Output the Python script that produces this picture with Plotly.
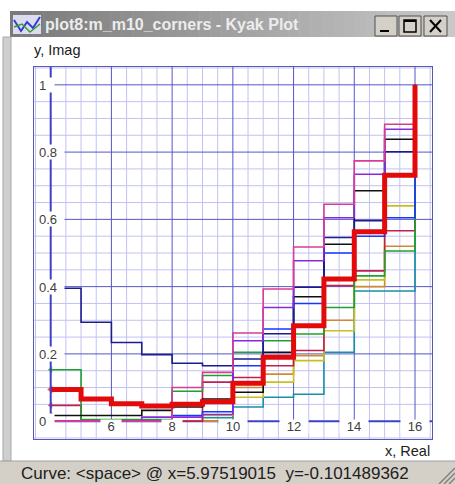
import plotly.graph_objects as go

# ---------------- data ----------------
x_steps = [4, 5, 6, 7, 8, 9, 10, 11, 12, 13, 14, 15, 16]

red     = [0.094, 0.066, 0.052, 0.045, 0.050, 0.058, 0.113, 0.190, 0.284, 0.423, 0.563, 0.731, 1.0]
navy    = [0.395, 0.294, 0.234, 0.198, 0.172, 0.165, 0.185, 0.260, 0.398, 0.546, 0.596, 0.801, 1.0]
pink    = [0.0, 0.0, 0.0, 0.0, 0.100, 0.145, 0.262, 0.393, 0.518, 0.645, 0.774, 0.883, 1.0]
purple  = [0.0, 0.0, 0.0, 0.012, 0.012, 0.020, 0.239, 0.338, 0.477, 0.605, 0.734, 0.868, 1.0]
black   = [0.017, 0.017, 0.017, 0.032, 0.042, 0.066, 0.086, 0.205, 0.370, 0.526, 0.685, 0.838, 1.0]
blue    = [0.0, 0.0, 0.0, 0.0, 0.017, 0.028, 0.165, 0.274, 0.350, 0.500, 0.550, 0.605, 1.0]
green   = [0.153, 0.005, 0.005, 0.005, 0.089, 0.136, 0.205, 0.239, 0.259, 0.338, 0.432, 0.506, 1.0]
crimson = [0.047, 0.0, 0.0, 0.0, 0.0, 0.116, 0.130, 0.165, 0.210, 0.403, 0.447, 0.566, 1.0]
olive   = [0.0, 0.0, 0.0, 0.0, 0.0, 0.017, 0.071, 0.116, 0.180, 0.269, 0.420, 0.640, 1.0]
teal    = [0.0, 0.0, 0.0, 0.0, 0.0, 0.010, 0.042, 0.071, 0.080, 0.205, 0.387, 0.387, 1.0]
orange  = [0.0, 0.0, 0.0, 0.0, 0.0, 0.0, 0.100, 0.140, 0.195, 0.300, 0.400, 0.520, 1.0]

x_ticks = [6, 8, 10, 12, 14, 16]
x_tick_labels = ["6", "8", "10", "12", "14", "16"]
y_ticks = [0, 0.2, 0.4, 0.6, 0.8, 1.0]
y_tick_labels = ["0", "0.2", "0.4", "0.6", "0.8", "1"]

window_title = "plot8:m_m10_corners - Kyak Plot"
y_title = "y, Imag"
x_title = "x, Real"
status_text = "Curve: <space> @ x=5.97519015  y=-0.101489362"

# ---------------- geometry ----------------
W, H = 455, 484
L, R, T, B = 34, 432, 67, 439
XR = [3.45, 16.56]
YR = [-0.053, 1.053]
FONT = "Liberation Sans, Arial, sans-serif"
X_MINOR_STEP, Y_MINOR_STEP = 0.5, 0.05


def px(v):
    return (v - L) / (R - L)


def py(v):
    return (B - v) / (B - T)


fig = go.Figure()

thin = [
    (orange, "#d08a30"), (teal, "#1a90a8"), (olive, "#c8c020"), (crimson, "#c02050"),
    (green, "#20a030"), (blue, "#1438ff"), (black, "#101010"), (navy, "#1c1c8c"),
    (purple, "#8a28e0"), (pink, "#d83c96"),
]
n = len(x_steps)
for vals, col in thin:
    fig.add_trace(go.Scatter(
        x=x_steps, y=vals, mode="lines+markers",
        line=dict(color=col, width=1.6, shape="hv"),
        marker=dict(symbol="triangle-left", size=[6] + [0] * (n - 1), color=col, line=dict(width=0)),
        showlegend=False, hoverinfo="skip"))

fig.add_trace(go.Scatter(
    x=x_steps, y=red, mode="lines+markers",
    line=dict(color="#e20a0a", width=5, shape="hv"),
    marker=dict(symbol="triangle-left", size=[7] + [0] * (n - 1), color="#e20a0a", line=dict(width=0)),
    showlegend=False, hoverinfo="skip"))

shapes = []
MIN = "#c2c2f2"
MAJ = "#5656c8"
AX = "#4040c4"
k = 0
while True:
    xv = 3.5 + k * X_MINOR_STEP
    if xv > XR[1]:
        break
    if not (xv >= 4 and abs((xv - 4) % 2) < 1e-9):
        shapes.append(dict(type="line", xref="x", yref="paper", x0=xv, x1=xv, y0=0, y1=1,
                           line=dict(color=MIN, width=1), layer="below"))
    k += 1
k = -1
while True:
    yv = k * Y_MINOR_STEP
    if yv > YR[1]:
        break
    if not (yv >= 0 and k % 4 == 0):
        shapes.append(dict(type="line", xref="paper", yref="y", x0=0, x1=1, y0=yv, y1=yv,
                           line=dict(color=MIN, width=1), layer="below"))
    k += 1
for xv in x_ticks:
    shapes.append(dict(type="line", xref="x", yref="y", x0=xv, x1=xv, y0=0, y1=YR[1],
                       line=dict(color=MAJ, width=1), layer="below"))
for yv in y_ticks[1:]:
    shapes.append(dict(type="line", xref="x", yref="y", x0=4, x1=XR[1], y0=yv, y1=yv,
                       line=dict(color=MAJ, width=1), layer="below"))
shapes.append(dict(type="line", xref="x", yref="y", x0=4, x1=4, y0=0, y1=YR[1],
                   line=dict(color=AX, width=2), layer="above"))
shapes.append(dict(type="line", xref="x", yref="y", x0=4, x1=XR[1], y0=0, y1=0,
                   line=dict(color=AX, width=2), layer="below"))

# ---- window chrome ----
nstrip = 40
x_start, x_end = 10, 455
for i in range(nstrip):
    t = i / (nstrip - 1)
    c = int(122 + (200 - 122) * t)
    a = x_start + (x_end - x_start) * i / nstrip
    b = x_start + (x_end - x_start) * (i + 1) / nstrip + 0.5
    shapes.append(dict(type="rect", xref="paper", yref="paper", x0=px(a), x1=px(b),
                       y0=py(37), y1=py(11), fillcolor=f"rgb({c},{c},{c})", line=dict(width=0),
                       layer="above"))
shapes.append(dict(type="rect", xref="paper", yref="paper", x0=px(13), x1=px(41), y0=py(34), y1=py(15),
                   fillcolor="#dcdcf0", line=dict(width=0), layer="above"))
shapes.append(dict(type="path", xref="paper", yref="paper",
                   path=f"M {px(14)},{py(20)} L {px(21)},{py(31)} L {px(27)},{py(22)} L {px(33)},{py(28)} L {px(40)},{py(17)}",
                   line=dict(color="#3a3ad0", width=2), layer="above"))
shapes.append(dict(type="path", xref="paper", yref="paper",
                   path=f"M {px(14)},{py(27)} L {px(22)},{py(24)} L {px(30)},{py(32)} L {px(40)},{py(24)}",
                   line=dict(color="#30a030", width=1.5), layer="above"))
for (a, b) in [(375, 397), (399, 421), (424, 447)]:
    shapes.append(dict(type="rect", xref="paper", yref="paper", x0=px(a), x1=px(b), y0=py(36), y1=py(16),
                       fillcolor="#d4d0c8", line=dict(color="#505050", width=1), layer="above"))
shapes.append(dict(type="rect", xref="paper", yref="paper", x0=px(380), x1=px(389), y0=py(32), y1=py(30),
                   fillcolor="#000000", line=dict(width=0), layer="above"))
shapes.append(dict(type="rect", xref="paper", yref="paper", x0=px(404), x1=px(416), y0=py(32), y1=py(20),
                   fillcolor="rgba(0,0,0,0)", line=dict(color="#000000", width=1.5), layer="above"))
shapes.append(dict(type="line", xref="paper", yref="paper", x0=px(404), x1=px(416), y0=py(21), y1=py(21),
                   line=dict(color="#000000", width=2), layer="above"))
shapes.append(dict(type="line", xref="paper", yref="paper", x0=px(430), x1=px(441), y0=py(20), y1=py(32),
                   line=dict(color="#000000", width=2), layer="above"))
shapes.append(dict(type="line", xref="paper", yref="paper", x0=px(430), x1=px(441), y0=py(32), y1=py(20),
                   line=dict(color="#000000", width=2), layer="above"))
shapes.append(dict(type="rect", xref="paper", yref="paper", x0=px(3), x1=px(11), y0=py(461), y1=py(37),
                   fillcolor="#cfcfcf", line=dict(color="#a8a8a8", width=1), layer="above"))
shapes.append(dict(type="rect", xref="paper", yref="paper", x0=px(0), x1=px(456), y0=py(485), y1=py(461),
                   fillcolor="#d4d0c8", line=dict(width=0), layer="above"))
shapes.append(dict(type="line", xref="paper", yref="paper", x0=px(0), x1=px(456), y0=py(461), y1=py(461),
                   line=dict(color="#a0a0a0", width=1), layer="above"))
for kk in (6, 11, 16):
    shapes.append(dict(type="line", xref="paper", yref="paper", x0=px(455 - kk), x1=px(455), y0=py(484), y1=py(484 - kk),
                       line=dict(color="#808080", width=1.5), layer="above"))

ann = []
for v, t in zip(y_ticks, y_tick_labels):
    ann.append(dict(xref="paper", yref="y", x=px(37), y=v, xanchor="left", yanchor="middle",
                    text=t, showarrow=False, bgcolor="white", borderpad=1,
                    width=14 if len(t) == 1 else 24, height=12, align="left",
                    font=dict(family=FONT, size=13, color="#404040")))
for v, t in zip(x_ticks, x_tick_labels):
    ann.append(dict(xref="x", yref="paper", x=v, y=py(426), xanchor="center", yanchor="middle",
                    text=t, showarrow=False, bgcolor="white", borderpad=0,
                    width=20 if len(t) == 1 else 28, height=13,
                    font=dict(family=FONT, size=13, color="#404040")))
ann.append(dict(xref="paper", yref="paper", x=px(32), y=py(50), xanchor="left", yanchor="middle",
                text=y_title, showarrow=False, font=dict(family=FONT, size=14.5, color="#202020")))
ann.append(dict(xref="paper", yref="paper", x=px(432), y=py(451), xanchor="right", yanchor="middle",
                text=x_title, showarrow=False, font=dict(family=FONT, size=14.5, color="#202020")))
ann.append(dict(xref="paper", yref="paper", x=px(43), y=py(24), xanchor="left", yanchor="middle",
                text="<b>" + window_title + "</b>", showarrow=False,
                font=dict(family=FONT, size=16, color="#ececec")))
ann.append(dict(xref="paper", yref="paper", x=px(19), y=py(474), xanchor="left", yanchor="middle",
                text=status_text.replace("<", "&lt;").replace(">", "&gt;"), showarrow=False,
                font=dict(family=FONT, size=17, color="#202020")))

fig.update_layout(
    width=W, height=H,
    margin=dict(l=L, r=W - R, t=T, b=H - B, pad=0),
    paper_bgcolor="white", plot_bgcolor="white",
    shapes=shapes, annotations=ann,
    xaxis=dict(range=XR, showticklabels=False, ticks="", showgrid=False, zeroline=False,
               showline=True, mirror=True, linecolor="#5858b0", linewidth=1),
    yaxis=dict(range=YR, showticklabels=False, ticks="", showgrid=False, zeroline=False,
               showline=True, mirror=True, linecolor="#5858b0", linewidth=1),
    showlegend=False,
)

fig.write_html("out.html", config={"displayModeBar": False},
               post_script="document.body.style.margin='0';document.body.style.overflow='hidden';")
